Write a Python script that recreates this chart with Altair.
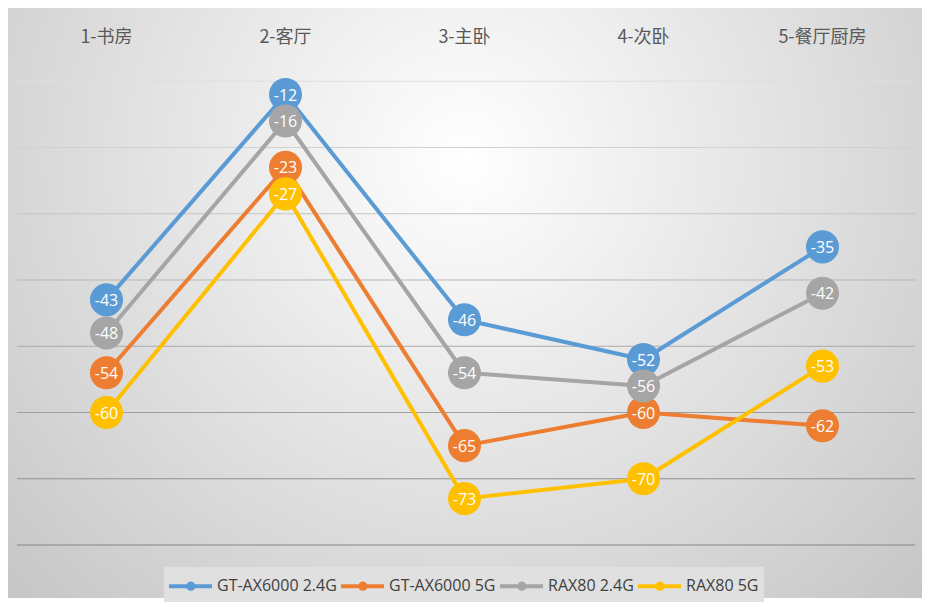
import altair as alt
import pandas as pd

cats = ["1-书房", "2-客厅", "3-主卧", "4-次卧", "5-餐厅厨房"]
series_names = ["GT-AX6000 2.4G", "GT-AX6000 5G", "RAX80 2.4G", "RAX80 5G"]
gt_24 = [-43, -12, -46, -52, -35]
gt_5 = [-54, -23, -65, -60, -62]
rax_24 = [-48, -16, -54, -56, -42]
rax_5 = [-60, -27, -73, -70, -53]
colors = ["#5B9BD5", "#ED7D31", "#A5A5A5", "#FFC000"]
grid_values = [-10, -20, -30, -40, -50, -60, -70, -80]

all_vals = [gt_24, gt_5, rax_24, rax_5]
rows = []
for s, vals in zip(series_names, all_vals):
    for c, v in zip(cats, vals):
        rows.append({"cat": c, "series": s, "value": v})
df = pd.DataFrame(rows)
cat_df = pd.DataFrame({"cat": cats})
grid_df = pd.DataFrame({"g": grid_values})

W, H = 898, 530

x_axis = alt.Axis(orient="top", labels=False, ticks=False, title=None, domain=True,
                  domainColor="#404040", domainWidth=3, grid=False)
X = alt.X("cat:N", sort=cats, axis=x_axis,
          scale=alt.Scale(type="point", padding=0.5, range=[0, 895]))
Y = alt.Y("value:Q", axis=None, scale=alt.Scale(domain=[-80, 0], nice=False, zero=False))
color_scale = alt.Scale(domain=series_names, range=colors)

sym_path = ("M-1.167,0H2.417"
            "M0.875,0A0.22,0.22,0,1,1,0.435,0A0.22,0.22,0,1,1,0.875,0Z")
legend = alt.Legend(
    orient="none", legendX=147, legendY=552, direction="horizontal", title=None,
    fillColor="#e0e0e0", padding=5, columnPadding=-5,
    labelFont="Open Sans", labelFontSize=16, labelColor="#404040", labelOffset=20,
    symbolType=sym_path, symbolSize=576, symbolStrokeWidth=4,
)

bg = alt.Chart(alt.Data(values=[{"a": 1}])).mark_rect(
    color=alt.RadialGradient(
        gradient="radial",
        stops=[alt.GradientStop(color="#ffffff", offset=0),
               alt.GradientStop(color="#c0c0c0", offset=1)],
        x1=0.5, y1=0.341, r1=0, x2=0.5, y2=0.341, r2=0.766),
).encode(x=alt.value(-9), x2=alt.value(905), y=alt.value(-7), y2=alt.value(583))

grid = alt.Chart(grid_df).mark_rule(strokeWidth=1).encode(
    y=alt.Y("g:Q", axis=None, scale=alt.Scale(domain=[-80, 0], nice=False, zero=False)),
    stroke=alt.Stroke("g:Q", legend=None,
                      scale=alt.Scale(domain=[-80, -10], range=["#858585", "#dedede"])),
)

cat_labels = alt.Chart(cat_df).mark_text(
    font="Noto Sans CJK SC", fontSize=18, color="#595959", baseline="middle"
).encode(x=X, y=alt.value(23), text="cat:N")

layers = [bg, grid, cat_labels]
for i, s in enumerate(series_names):
    base = alt.Chart(df).transform_filter(alt.datum.series == s)
    lg = legend if i == 0 else None
    layers.append(base.mark_line(strokeWidth=4, strokeJoin="round").encode(
        x=X, y=Y,
        color=alt.Color("series:N", scale=color_scale, legend=lg)))
    layers.append(base.mark_point(filled=True, opacity=1, size=1090, shape="circle").encode(
        x=X, y=Y, color=alt.Color("series:N", scale=color_scale, legend=lg)))

labels = alt.Chart(df).transform_calculate(lbl="toString(datum.value)").mark_text(
    font="Open Sans", fontSize=16, color="white", baseline="middle", align="center", dy=1
).encode(x=X, y=Y, text="lbl:N")
layers.append(labels)

chart = alt.layer(*layers).properties(width=W, height=H, padding=0).configure_view(
    stroke=None
).configure(background="white")

chart.save("out.html", embed_options={"renderer": "svg", "actions": False})
